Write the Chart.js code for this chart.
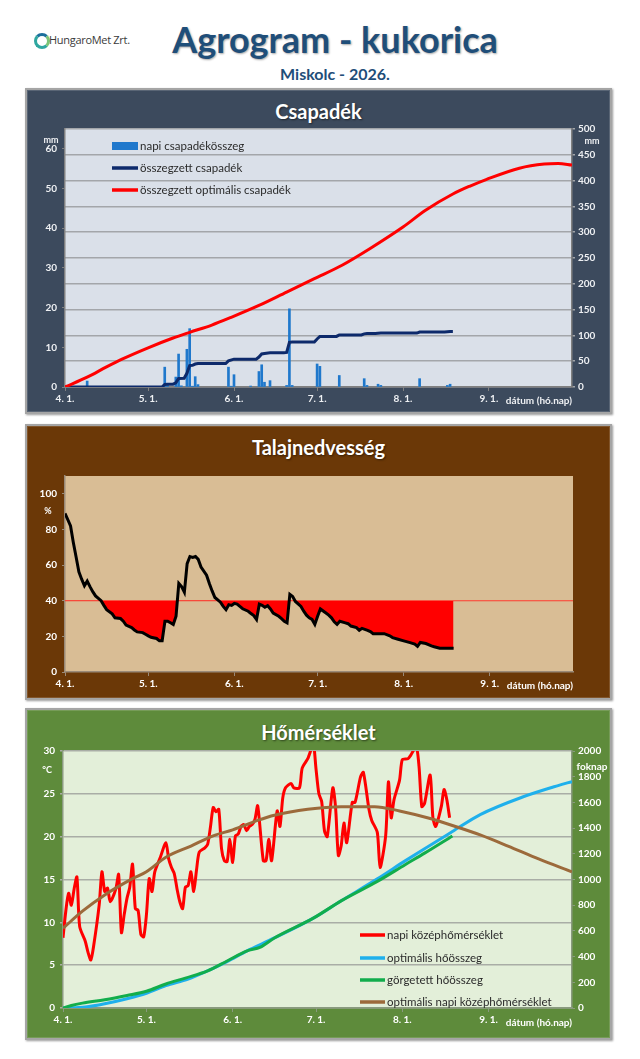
<!DOCTYPE html>
<html><head><meta charset="utf-8">
<script src="https://cdn.jsdelivr.net/npm/chart.js@4.4.1/dist/chart.umd.min.js"></script>
<style>
html,body{margin:0;padding:0;background:#fff;}
body{width:640px;height:1059px;position:relative;overflow:hidden;font-family:Lato,'Open Sans',sans-serif;}
.abs{position:absolute;}
.panel{position:absolute;left:25px;width:587px;box-sizing:border-box;border:2px solid #a5a5a5;box-shadow:inset 0 0 0 1px rgba(255,255,255,0.15), 1px 1px 2px rgba(0,0,0,0.4);}
.ptitle{position:absolute;left:25px;width:587px;text-align:center;color:#fff;font-weight:bold;font-size:20px;text-shadow:1px 1px 2px rgba(0,0,0,0.5);}
canvas{position:absolute;}
</style>
</head><body>
<div class="abs" style="left:34px;top:33px;width:10px;height:10px;border-radius:50%;border:3px solid #2fa7a0;border-right-color:#7cc576;border-top-color:#1c6f9c;"></div>
<div class="abs" style="left:49px;top:32px;font-family:'Open Sans',sans-serif;font-size:11px;color:#3a3a3a;letter-spacing:-0.3px;">HungaroMet Zrt.</div>
<div class="abs" style="left:0;width:670px;top:17px;text-align:center;font-weight:bold;font-size:36px;color:#1f4e79;text-shadow:1px 1px 2px rgba(0,0,0,0.35);">Agrogram - kukorica</div>
<div class="abs" style="left:0;width:670px;top:64px;text-align:center;font-weight:bold;font-size:16px;color:#1f4e79;">Miskolc - 2026.</div>

<div class="panel" style="top:88px;height:326px;background:#3c4a5d;"></div>
<div class="ptitle" style="top:99px;">Csapadék</div>
<canvas id="c1" width="587" height="295" style="left:25px;top:118px;width:587px;height:295px;"></canvas>

<div class="panel" style="top:424px;height:276px;background:#6b3807;"></div>
<div class="ptitle" style="top:435px;">Talajnedvesség</div>
<canvas id="c2" width="587" height="233" style="left:25px;top:465px;width:587px;height:233px;"></canvas>

<div class="panel" style="top:708px;height:332px;background:#5e8b3b;"></div>
<div class="ptitle" style="top:720px;">Hőmérséklet</div>
<canvas id="c3" width="587" height="298" style="left:25px;top:740px;width:587px;height:298px;"></canvas>

<script>
// ---- shared x axis (days from April 1) ----
const monthTickDays = [0, 30, 61, 91, 122, 153];
const monthTickLabels = ['4. 1.', '5. 1.', '6. 1.', '7. 1.', '8. 1.', '9. 1.'];
const dayAxisMax = 183;
const xAxisTitle = 'dátum (hó.nap)';

// ---- Csapadék ----
const rainDays = [8, 36, 37, 40, 41, 42, 44, 45, 46, 47, 48, 59, 60, 61, 67, 70, 71, 72, 74, 80, 81, 82, 91, 92, 99, 108, 109, 113, 114, 128, 138, 139];
const rainMm   = [1.5, 5.0, 0.4, 2.5, 8.3, 0.3, 9.5, 14.7, 0.2, 2.6, 0.6, 5.0, 0.2, 3.1, 0.25, 3.9, 5.6, 1.2, 1.6, 0.4, 19.7, 0.4, 5.8, 5.2, 2.9, 2.1, 0.4, 0.7, 0.4, 2.1, 0.4, 0.7];
const rainSumDays = [0, 35, 36, 37, 39, 40, 41, 43, 44, 45, 46, 47, 48, 58, 59, 61, 69, 70, 71, 72, 74, 79, 80, 81, 82, 90, 91, 92, 98, 99, 107, 108, 109, 112, 113, 114, 127, 128, 137, 139, 140];
const rainSumMm   = [0, 0, 5, 5.5, 5.5, 8, 16.5, 17, 26.5, 41.5, 42, 44.5, 45.5, 45.5, 50.5, 54, 54, 58, 64, 65, 66.5, 66.5, 67, 86.5, 87, 87, 93, 98, 98, 101, 101, 103, 103.5, 103.5, 104, 104.5, 104.5, 106.5, 106.5, 107.5, 107.5];
const optRainDays = [0, 8, 15, 21, 30, 39, 45, 53, 60, 70, 80, 90, 100, 110, 122, 130, 140, 146, 152, 164, 173, 178, 183];
const optRainMm   = [0, 19, 39, 55, 76, 95, 106, 120, 135, 158, 184, 210, 236, 268, 310, 342, 374, 389, 402, 424, 432, 433, 430];
const rainTicks = [0, 10, 20, 30, 40, 50, 60];
const rainSumTicks = [0, 50, 100, 150, 200, 250, 300, 350, 400, 450, 500];

// ---- Talajnedvesség ----
const soilDays = [0, 2, 3, 4, 5, 6, 7, 8, 9, 10, 11, 13, 14, 15, 17, 18, 20, 21, 22, 24, 25, 26, 28, 29, 30, 31, 33, 34, 35, 36, 37, 38, 39, 40, 41, 42, 43, 44, 45, 46, 47, 48, 49, 51, 52, 53, 54, 56, 57, 58, 59, 60, 61, 62, 63, 64, 66, 67, 68, 69, 70, 71, 72, 73, 74, 75, 77, 78, 79, 80, 81, 82, 83, 85, 86, 87, 88, 89, 90, 91, 92, 94, 95, 96, 97, 98, 99, 101, 102, 103, 105, 106, 107, 109, 110, 111, 113, 115, 117, 118, 120, 122, 124, 126, 127, 128, 130, 132, 133, 135, 137, 140];
const soilPct  = [89, 82, 72.7, 64.5, 56.2, 52.1, 48.4, 51.0, 47.9, 45.1, 42.7, 40.0, 37.4, 35.0, 32.6, 30.4, 30.0, 28.5, 26.3, 24.9, 23.6, 22.5, 22.1, 21.2, 20.3, 19.5, 18.8, 17.5, 17.5, 28.5, 28.5, 27.6, 26.7, 31.3, 49.7, 47.9, 44.8, 60.8, 64.8, 64.3, 64.8, 63.2, 58.9, 54.3, 49.7, 45.5, 41.8, 39.2, 36.8, 35.0, 37.8, 37.4, 38.5, 38.1, 36.8, 35.5, 34.1, 32.8, 31.7, 29.5, 38.1, 37.4, 36.3, 37.2, 35.4, 33.1, 31.3, 30.0, 28.5, 27.6, 43.6, 42.4, 39.6, 36.8, 34.1, 31.9, 30.4, 29.5, 26.7, 31.3, 35.4, 33.1, 31.9, 30.4, 28.2, 26.7, 28.5, 27.6, 27.1, 25.8, 24.9, 23.4, 24.5, 23.4, 22.7, 21.5, 21.5, 21.5, 20.3, 19.3, 18.4, 17.5, 16.6, 15.7, 14.4, 16.6, 16.0, 14.7, 14.2, 13.3, 13.3, 13.3];
const soilLimit = 40;
const soilTicks = [0, 20, 40, 60, 80, 100];

// ---- Hőmérséklet ----
const tempDays = [0, 1, 2, 3, 4, 5, 6, 8, 9, 10, 11, 13, 14, 15, 16, 17, 19, 20, 21, 22, 23, 24, 25, 26, 27, 28, 29, 30, 31, 32, 33, 35, 37, 38, 39, 40, 41, 42, 43, 44, 45, 46, 47, 48, 49, 51, 52, 53, 54, 55, 56, 57, 58, 59, 60, 61, 62, 63, 64, 65, 66, 67, 68, 69, 70, 72, 73, 74, 75, 77, 78, 79, 80, 82, 83, 85, 86, 88, 89, 90, 91, 92, 93, 94, 95, 97, 98, 99, 100, 101, 102, 104, 105, 107, 108, 110, 111, 113, 114, 116, 117, 118, 119, 121, 122, 124, 125, 127, 128, 129, 130, 132, 133, 134, 136, 137, 138, 139];
const tempC    = [8.2, 11.3, 13.4, 12.0, 13.9, 15.3, 9.5, 7.8, 6.5, 5.6, 7.2, 12.0, 15.9, 13.6, 14.0, 12.4, 13.9, 15.6, 8.8, 10.9, 12.8, 14.1, 16.8, 11.6, 11.4, 8.6, 8.3, 10.9, 15.1, 13.6, 15.9, 17.6, 19.3, 17.4, 16.4, 15.7, 13.9, 12.4, 11.6, 14.1, 14.3, 15.9, 13.6, 16.1, 18.2, 18.7, 19.1, 21.1, 23.4, 22.9, 23.2, 18.6, 17.2, 17.1, 19.7, 17.0, 20.1, 20.3, 21.2, 21.4, 20.7, 21.2, 21.4, 22.0, 23.6, 17.2, 17.2, 19.7, 17.2, 23.0, 21.2, 24.5, 25.7, 26.2, 25.7, 25.7, 28.0, 29.1, 30.0, 31.0, 27.8, 25.0, 24.1, 20.7, 20.0, 25.7, 23.4, 17.8, 18.9, 21.6, 19.3, 24.0, 24.0, 27.0, 27.5, 23.2, 21.9, 20.5, 16.4, 20.1, 26.4, 22.2, 24.3, 26.6, 29.0, 29.1, 29.5, 30.5, 28.2, 23.5, 23.9, 27.2, 22.2, 21.2, 23.5, 25.5, 24.3, 22.2];
const optHeatDays = [0, 8, 15, 23, 30, 37, 45, 52, 59, 66, 76, 90, 100, 113, 123, 130, 140, 150, 165, 178, 183];
const optHeatSum  = [0, 8, 33, 72, 115, 174, 225, 289, 361, 443, 545, 699, 834, 1005, 1145, 1240, 1373, 1505, 1640, 1731, 1762];
const heatDays = [0, 3, 7, 15, 23, 30, 37, 44, 52, 59, 66, 71, 76, 90, 100, 113, 123, 130, 140];
const heatSum  = [0, 20, 38, 64, 97, 130, 187, 233, 289, 366, 443, 474, 545, 699, 834, 985, 1115, 1205, 1339];
const optTempDays = [0, 7, 15, 25, 30, 37, 46, 54, 61, 70, 76, 88, 100, 112, 121, 131, 140, 150, 160, 171, 183];
const optTempC    = [9.3, 11.3, 13.2, 15.1, 15.9, 17.6, 18.9, 20.1, 20.8, 21.9, 22.5, 23.2, 23.5, 23.5, 23.0, 22.2, 21.3, 20.2, 18.9, 17.4, 15.9];
const tempTicks = [0, 5, 10, 15, 20, 25, 30];
const heatTicks = [0, 200, 400, 600, 800, 1000, 1200, 1400, 1600, 1800, 2000];

// ---------------------------------------------------------------
Chart.defaults.font.family = 'Lato, "Open Sans", sans-serif';
const pts = (xs, ys) => xs.map((x, i) => ({x: x, y: ys[i]}));
const tickFont = {size: 10, weight: 'bold'};

function xAxis(color, lineColor, h) {
  return {
    type: 'linear', min: 0, max: dayAxisMax, offset: false,
    afterBuildTicks: a => { a.ticks = monthTickDays.map(v => ({value: v})); },
    afterFit: s => { s.height = h; },
    ticks: {color: color, font: tickFont, autoSkip: false, maxRotation: 0, padding: 2,
      callback: v => monthTickLabels[monthTickDays.indexOf(v)]},
    grid: {display: true, offset: false, drawOnChartArea: false, drawTicks: true, tickLength: 4, color: lineColor},
    border: {display: true, color: lineColor, width: 1.5}
  };
}
function yAxis(pos, min, max, tickList, w, color, lineColor, grid, gridColor) {
  return {
    type: 'linear', position: pos, min: min, max: max,
    afterBuildTicks: a => { a.ticks = tickList.map(v => ({value: v})); },
    afterFit: s => { s.width = w; },
    ticks: {color: color, font: tickFont, padding: pos === 'left' ? 5 : 3, callback: v => String(v)},
    grid: grid ? {drawOnChartArea: true, color: gridColor, lineWidth: 1.5, drawTicks: true, tickLength: 3}
               : {drawOnChartArea: false, drawTicks: true, tickLength: 3, color: lineColor},
    border: {display: true, color: lineColor, width: 1.5}
  };
}
function bgPlugin(color) {
  return {id: 'plotBg', beforeDraw(chart) {
    const {ctx, chartArea: a} = chart;
    ctx.save(); ctx.fillStyle = color; ctx.fillRect(a.left, a.top, a.right - a.left, a.bottom - a.top); ctx.restore();
  }};
}
function textPlugin(fn) {
  return {id: 'texts', afterDraw(chart) { const ctx = chart.ctx; ctx.save(); fn(chart, ctx); ctx.restore(); }};
}
function legendPlugin(dx, dys, sw, textColor) {
  return {id: 'customLegend', afterDraw(chart) {
    const {ctx, chartArea: a} = chart;
    ctx.save();
    ctx.font = '11.5px Lato, "Open Sans", sans-serif';
    ctx.textBaseline = 'middle';
    chart.data.datasets.forEach((ds, i) => {
      if (ds.legendRow === undefined) return;
      const x = a.left + dx, y = a.top + dys[ds.legendRow];
      if (ds.type === 'bar') {
        ctx.fillStyle = ds.backgroundColor; ctx.fillRect(x, y - 4, sw, 8);
      } else {
        ctx.strokeStyle = ds.borderColor; ctx.lineWidth = 3.5;
        ctx.beginPath(); ctx.moveTo(x, y); ctx.lineTo(x + sw, y); ctx.stroke();
      }
      ctx.fillStyle = textColor; ctx.textAlign = 'left';
      ctx.fillText(ds.label, x + sw + 2, y);
    });
    ctx.restore();
  }};
}
function label(ctx, t, x, y, align, color, size) {
  ctx.font = 'bold ' + (size || 10) + 'px Lato, "Open Sans", sans-serif';
  ctx.fillStyle = color; ctx.textAlign = align; ctx.textBaseline = 'middle';
  ctx.fillText(t, x, y);
}

// ---------------- Chart 1: Csapadék ----------------
new Chart(document.getElementById('c1'), {
  data: {datasets: [
    {type: 'line', label: 'összegzett optimális csapadék', data: pts(optRainDays, optRainMm), yAxisID: 'yR',
     borderColor: '#ff0000', borderWidth: 3, pointRadius: 0, cubicInterpolationMode: 'monotone', order: 1, legendRow: 2},
    {type: 'line', label: 'összegzett csapadék', data: pts(rainSumDays, rainSumMm), yAxisID: 'yR',
     borderColor: '#0d2a6b', borderWidth: 3, pointRadius: 0, tension: 0, order: 2, legendRow: 1},
    {type: 'bar', label: 'napi csapadékösszeg', data: pts(rainDays, rainMm), yAxisID: 'yL',
     backgroundColor: '#1f78cc', barThickness: 2, order: 3, legendRow: 0}
  ]},
  options: {
    responsive: false, animation: false, events: [],
    layout: {padding: {top: 7, left: 0, right: 0, bottom: 0}},
    plugins: {legend: {display: false}, tooltip: {enabled: false}},
    scales: {
      x: xAxis('#eef0f3', '#808080', 26),
      yL: yAxis('left', 0, 65, rainTicks, 40, '#eef0f3', '#808080', false),
      yR: yAxis('right', 0, 500, rainSumTicks, 40, '#eef0f3', '#808080', true, '#a3a6aa')
    }
  },
  plugins: [bgPlugin('#dae0e9'), legendPlugin(47, [17, 39, 61], 26, '#2b2b2b'),
    textPlugin((c, ctx) => {
      label(ctx, 'mm', c.scales.yL.right - 14, c.scales.yL.getPixelForValue(60) - 9, 'center', '#eef0f3', 9);
      label(ctx, 'mm', c.scales.yR.left + 20, c.scales.yR.getPixelForValue(500) + 12, 'center', '#eef0f3', 9);
      label(ctx, xAxisTitle, c.chartArea.right, c.chartArea.bottom + 14, 'right', '#eef0f3', 10);
    })]
});

// ---------------- Chart 2: Talajnedvesség ----------------
new Chart(document.getElementById('c2'), {
  type: 'line',
  data: {datasets: [
    {label: 'talajnedvesség', data: pts(soilDays, soilPct), borderColor: '#000000', borderWidth: 3,
     pointRadius: 0, tension: 0, order: 1,
     fill: {target: {value: soilLimit}, above: 'rgba(0,0,0,0)', below: '#ff0000'}},
    {label: 'határ', data: [{x: 0, y: soilLimit}, {x: dayAxisMax, y: soilLimit}], borderColor: '#ff3b2f',
     borderWidth: 1.2, pointRadius: 0, fill: false, order: 2}
  ]},
  options: {
    responsive: false, animation: false, events: [],
    layout: {padding: {top: 8, left: 0, right: 39, bottom: 0}},
    plugins: {legend: {display: false}, tooltip: {enabled: false}},
    scales: {
      x: xAxis('#ffffff', '#9a8a78', 26),
      y: yAxis('left', 0, 110, soilTicks, 40, '#ffffff', '#9a8a78', false)
    }
  },
  plugins: [bgPlugin('#d9bd95'),
    textPlugin((c, ctx) => {
      label(ctx, '%', c.scales.y.right - 17, c.scales.y.getPixelForValue(90.5), 'center', '#ffffff', 9);
      label(ctx, xAxisTitle, c.chartArea.right, c.chartArea.bottom + 14, 'right', '#ffffff', 10);
    })]
});

// ---------------- Chart 3: Hőmérséklet ----------------
new Chart(document.getElementById('c3'), {
  type: 'line',
  data: {datasets: [
    {label: 'napi középhőmérséklet', data: pts(tempDays, tempC), yAxisID: 'yL', borderColor: '#ff0000',
     borderWidth: 3, pointRadius: 0, tension: 0.25, order: 4, legendRow: 0},
    {label: 'optimális hőösszeg', data: pts(optHeatDays, optHeatSum), yAxisID: 'yR', borderColor: '#1fb0ec',
     borderWidth: 3, pointRadius: 0, cubicInterpolationMode: 'monotone', order: 3, legendRow: 1},
    {label: 'görgetett hőösszeg', data: pts(heatDays, heatSum), yAxisID: 'yR', borderColor: '#12ad4c',
     borderWidth: 3, pointRadius: 0, cubicInterpolationMode: 'monotone', order: 2, legendRow: 2},
    {label: 'optimális napi középhőmérséklet', data: pts(optTempDays, optTempC), yAxisID: 'yL', borderColor: '#9c6a3b',
     borderWidth: 3, pointRadius: 0, cubicInterpolationMode: 'monotone', order: 1, legendRow: 3}
  ]},
  options: {
    responsive: false, animation: false, events: [],
    layout: {padding: {top: 7, left: 0, right: 0, bottom: 0}},
    plugins: {legend: {display: false}, tooltip: {enabled: false}},
    scales: {
      x: xAxis('#ffffff', '#8a9a80', 30),
      yL: yAxis('left', 0, 30, tempTicks, 38, '#ffffff', '#8a9a80', true, '#a9ada6'),
      yR: yAxis('right', 0, 2000, heatTicks, 40, '#ffffff', '#8a9a80', false)
    }
  },
  plugins: [bgPlugin('#e3efd9'), legendPlugin(297, [184, 207, 229, 251], 25, '#2b2b2b'),
    textPlugin((c, ctx) => {
      label(ctx, '°C', c.scales.yL.right - 16, c.scales.yL.getPixelForValue(27.8), 'center', '#ffffff', 9);
      label(ctx, 'foknap', c.scales.yR.left + 20, c.scales.yR.getPixelForValue(1880), 'center', '#ffffff', 10);
      label(ctx, xAxisTitle, c.chartArea.right, c.chartArea.bottom + 15, 'right', '#ffffff', 10);
    })]
});
</script>
</body></html>
